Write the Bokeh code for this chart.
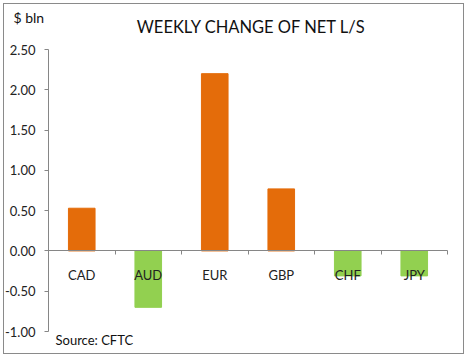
from bokeh.plotting import figure
from bokeh.models import Range1d, FixedTicker, Label, NumeralTickFormatter
from bokeh.embed import file_html
from bokeh.resources import INLINE

categories = ["CAD", "AUD", "EUR", "GBP", "CHF", "JPY"]
values = [0.53, -0.70, 2.20, 0.77, -0.31, -0.31]
y_ticks = [-1.0, -0.5, 0.0, 0.5, 1.0, 1.5, 2.0, 2.5]
y_min, y_max = -1.0, 2.5

ORANGE = "#E46C0A"
GREEN = "#92D050"
AXIS = "#868686"
FONT = "Lato"

# layout: canvas size and where the axes should sit (pixels inside the canvas)
W, H = 461, 351
AX_LEFT, AX_RIGHT = 44, 443      # x pixel of first / last category boundary
AX_TOP, AX_BOTTOM = 45, 327      # y pixel of y_max / y_min

n = len(categories)
px_x = (AX_RIGHT - AX_LEFT) / n
px_y = (AX_BOTTOM - AX_TOP) / (y_max - y_min)
x0 = -AX_LEFT / px_x
x1 = x0 + W / px_x
y1 = y_max + AX_TOP / px_y
y0 = y1 - H / px_y

xs = [i + 0.5 for i in range(n)]
colors = [ORANGE if v >= 0 else GREEN for v in values]

p = figure(width=W, height=H, x_range=Range1d(x0, x1), y_range=Range1d(y0, y1),
           output_backend="svg", toolbar_location=None,
           min_border_left=0, min_border_right=0, min_border_top=0, min_border_bottom=0,
           margin=(3, 0, 0, 3), styles={"border": "1px solid #8a8a8a"})
p.outline_line_color = None
p.xgrid.visible = False
p.ygrid.visible = False

p.vbar(x=xs, top=values, bottom=0, width=0.4, color=colors)

# y axis
p.yaxis.fixed_location = 0
p.yaxis.bounds = (y_min, y_max)
p.yaxis.ticker = FixedTicker(ticks=y_ticks)
p.yaxis.formatter = NumeralTickFormatter(format="0.00")
p.yaxis.axis_line_color = AXIS
p.yaxis.major_tick_line_color = AXIS
p.yaxis.major_tick_in = 0
p.yaxis.major_tick_out = 4
p.yaxis.minor_tick_line_color = None
p.yaxis.major_label_standoff = 9
p.yaxis.major_label_text_font = FONT
p.yaxis.major_label_text_font_size = "13px"
p.yaxis.major_label_text_color = "#222222"

# x axis at zero
p.xaxis.fixed_location = 0
p.xaxis.bounds = (0, n)
p.xaxis.ticker = FixedTicker(ticks=xs, minor_ticks=list(range(n + 1)))
p.xaxis.major_label_overrides = {x: c for x, c in zip(xs, categories)}
p.xaxis.axis_line_color = AXIS
p.xaxis.major_tick_line_color = None
p.xaxis.minor_tick_line_color = AXIS
p.xaxis.minor_tick_in = 0
p.xaxis.minor_tick_out = 4
p.xaxis.major_label_standoff = 10
p.xaxis.major_label_text_font = FONT
p.xaxis.major_label_text_font_size = "13px"
p.xaxis.major_label_text_color = "#222222"

def to_data(px, py):
    return x0 + px / px_x, y1 - py / px_y

tx, ty = to_data(247, 22)
p.add_layout(Label(x=tx, y=ty, text="WEEKLY CHANGE OF NET L/S", text_font=FONT,
                   text_font_size="16.5px", text_align="center", text_baseline="middle",
                   text_color="#111111"))
bx, by = to_data(9, 13)
p.add_layout(Label(x=bx, y=by, text="$ bln", text_font=FONT, text_font_size="14px",
                   text_align="left", text_baseline="middle", text_color="#111111"))
sx, sy = to_data(51, 335)
p.add_layout(Label(x=sx, y=sy, text="Source: CFTC", text_font=FONT, text_font_size="13px",
                   text_align="left", text_baseline="middle", text_color="#111111"))

open("out.html", "w").write(file_html(p, INLINE))
